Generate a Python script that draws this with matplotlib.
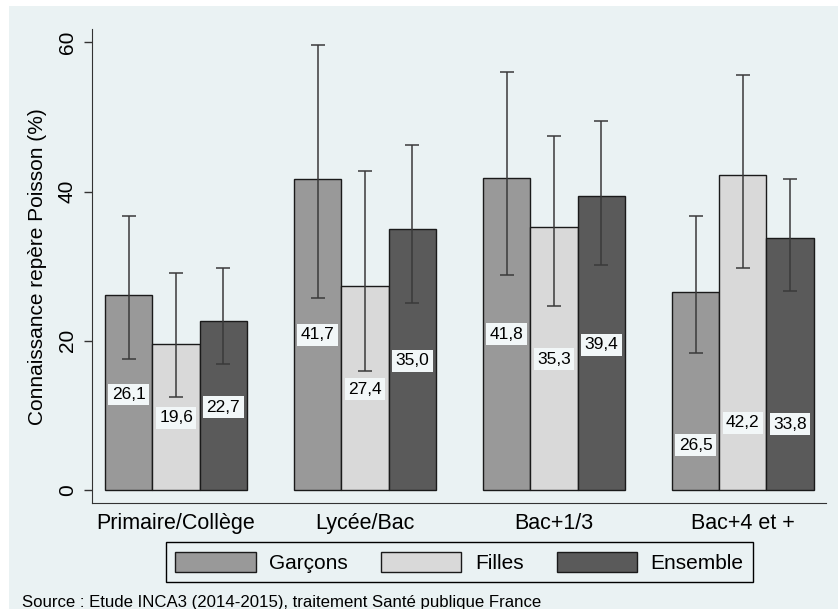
import matplotlib.pyplot as plt
from matplotlib.patches import Rectangle
import numpy as np

plt.rcParams['font.family'] = ['Liberation Sans', 'DejaVu Sans']

categories = ["Primaire/Collège", "Lycée/Bac", "Bac+1/3", "Bac+4 et +"]
series = ["Garçons", "Filles", "Ensemble"]
values = {
    "Garçons": [26.1, 41.7, 41.8, 26.5],
    "Filles": [19.6, 27.4, 35.3, 42.2],
    "Ensemble": [22.7, 35.0, 39.4, 33.8],
}
ci_low = {
    "Garçons": [17.6, 25.8, 28.8, 18.3],
    "Filles": [12.5, 16.0, 24.7, 29.8],
    "Ensemble": [16.9, 25.1, 30.2, 26.7],
}
ci_high = {
    "Garçons": [36.7, 59.7, 56.0, 36.7],
    "Filles": [29.1, 42.8, 47.5, 55.6],
    "Ensemble": [29.7, 46.3, 49.4, 41.7],
}
# hauteur des étiquettes
label_y = {
    "Garçons": [12.8, 20.8, 20.9, 6.0],
    "Filles": [9.7, 13.5, 17.5, 9.0],
    "Ensemble": [11.1, 17.3, 19.5, 8.8],
}
colors = {"Garçons": "#999999", "Filles": "#d9d9d9", "Ensemble": "#5a5a5a"}
bg = "#eaf2f3"

W, H = 838, 609
fig = plt.figure(figsize=(W / 100, H / 100), dpi=100, facecolor="white")
fig.patches.append(Rectangle((9 / W, 0), 1 - 9 / W, 1 - 6 / H,
                             transform=fig.transFigure, facecolor=bg,
                             edgecolor="none", zorder=-10))
ax = fig.add_axes([92 / W, 1 - 503 / H, (826 - 92) / W, (503 - 29.3) / H])
ax.set_facecolor(bg)

for j, s in enumerate(series):
    x = np.arange(len(categories)) * 4 + j
    v = np.array(values[s])
    ax.bar(x, v, width=1.0, color=colors[s], edgecolor="#1a1a1a",
           linewidth=1.0, label=s, zorder=2)
    err = [v - np.array(ci_low[s]), np.array(ci_high[s]) - v]
    ax.errorbar(x, v, yerr=err, fmt="none", ecolor="#3a3a3a",
                elinewidth=1.1, capsize=5, capthick=1.1, zorder=3)
    for xi, vi, ly in zip(x, v, label_y[s]):
        ax.text(xi, ly, f"{vi:.1f}".replace(".", ","), ha="center",
                va="center", fontsize=12.5, zorder=4,
                bbox=dict(boxstyle="square,pad=0.2", fc="#f2f7f8", ec="none"))

ax.set_xlim(-0.78, 14.76)
ax.set_ylim(-1.74, 61.75)
ax.set_xticks(np.arange(len(categories)) * 4 + 1)
ax.set_xticklabels(categories, fontsize=15.5)
ax.tick_params(axis="x", length=0, pad=7)
ax.set_yticks([0, 20, 40, 60])
ax.set_yticklabels(["0", "20", "40", "60"], fontsize=15, rotation=90,
                   va="center")
ax.tick_params(axis="y", length=6, width=1, color="#333333", pad=5)
ax.set_ylabel("Connaissance repère Poisson (%)", fontsize=15, labelpad=8)
for side in ["top", "right"]:
    ax.spines[side].set_visible(False)
for side in ["left", "bottom"]:
    ax.spines[side].set_color("#333333")

leg = ax.legend(loc="upper center", bbox_to_anchor=(459.5 / W, 1 - 542.3 / H),
                bbox_transform=fig.transFigure, ncol=3, fontsize=15,
                frameon=True, fancybox=False, edgecolor="black",
                facecolor=bg, framealpha=1, handlelength=3.85,
                handleheight=1.15, handletextpad=0.65, columnspacing=1.6,
                borderpad=0.45, borderaxespad=0)
leg.get_frame().set_linewidth(1.0)

fig.text(22 / W, 1 - 602 / H,
         "Source : Etude INCA3 (2014-2015), traitement Santé publique France",
         fontsize=12.1, va="center", ha="left")

fig.savefig("out.png", dpi=100, facecolor=fig.get_facecolor())
